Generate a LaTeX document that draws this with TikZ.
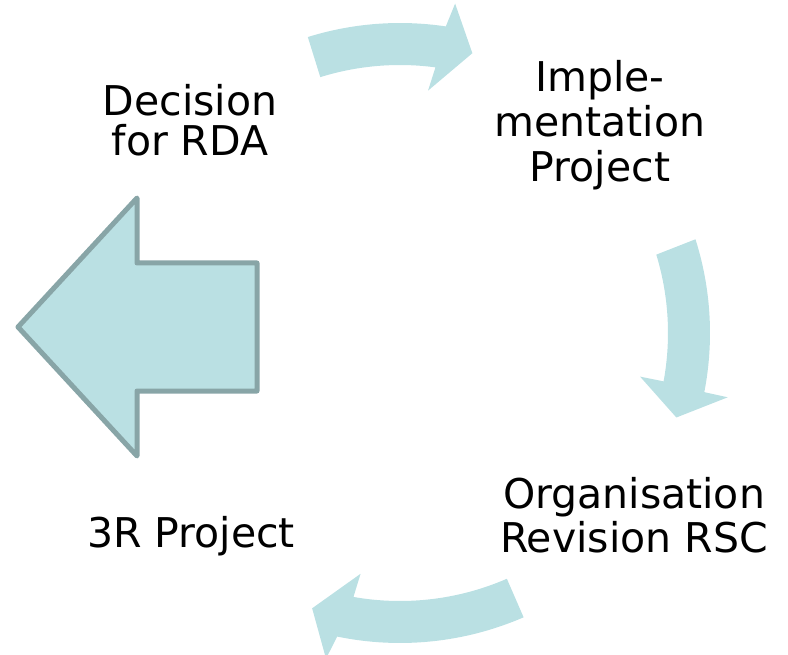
\documentclass[tikz,border=0pt]{standalone}
\usepackage{fontspec}
\setmainfont{DejaVu Sans}
\usetikzlibrary{calc}
\definecolor{arrowfill}{RGB}{186,224,227}
\definecolor{arrowline}{RGB}{136,165,167}
\tikzset{
  cyclearrow/.style={fill=arrowfill, draw=none},
  bigarrow/.style={fill=arrowfill, draw=arrowline, line width=5pt, line join=round},
  lbl/.style={inner sep=0pt, align=center, text=black, anchor=base},
}
\begin{document}
\begin{tikzpicture}[x=1pt,y=1pt]
\useasboundingbox (0,-655) rectangle (788,0);
\coordinate (C) at (400,-333);
% top arrow
\path[cyclearrow] ($(C)+(107.3:310)$) arc[start angle=107.3, end angle=81.5, radius=310]
  -- ($(C)+(80.5:334)$) -- ($(C)+(75.5:289)$) -- ($(C)+(83.4:244)$) -- ($(C)+(82.4:268)$)
  arc[start angle=82.4, end angle=107.3, radius=268] -- cycle;
% right arrow
\path[cyclearrow] ($(C)+(17.6:310)$) arc[start angle=17.6, end angle=-11.0, radius=310]
  -- ($(C)+(-11.1:334)$) -- ($(C)+(-17.0:289)$) -- ($(C)+(-10.3:244)$) -- ($(C)+(-10.4:268)$)
  arc[start angle=-10.4, end angle=17.0, radius=268] -- cycle;
% bottom arrow
\path[cyclearrow] ($(C)+(-66.5:310)$) arc[start angle=-66.5, end angle=-101.7, radius=310]
  -- ($(C)+(-102.8:334)$) -- ($(C)+(-107.7:289)$) -- ($(C)+(-99.3:244)$) -- ($(C)+(-100.0:268)$)
  arc[start angle=-100.0, end angle=-66.5, radius=268] -- cycle;
% big left arrow
\draw[bigarrow] (18,-327) -- (137,-198) -- (137,-263) -- (257,-263) -- (257,-391)
  -- (137,-391) -- (137,-456) -- cycle;
% labels (base anchor = baseline of the last line)
\node[lbl, font=\fontsize{41}{40}\selectfont] (dec) at (190,-156) {Decision\\for RDA};
\node[lbl, font=\fontsize{41}{45}\selectfont] (imp) at (600,-182) {Imple-\\mentation\\Project};
\node[lbl, font=\fontsize{41}{44}\selectfont] (org) at (634,-552) {Organisation\\Revision RSC};
\node[lbl, font=\fontsize{41}{44}\selectfont] (three) at (191,-547) {3R Project};
\end{tikzpicture}
\end{document}
